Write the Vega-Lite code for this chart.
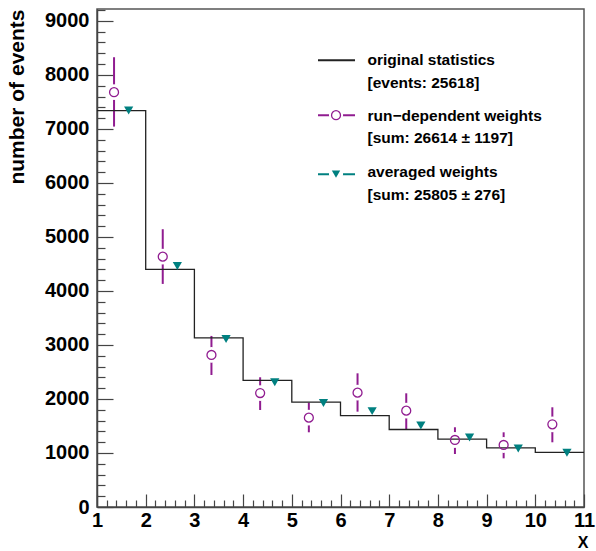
{
  "$schema": "https://vega.github.io/schema/vega-lite/v6.json",
  "width": 487,
  "height": 498,
  "autosize": "none",
  "padding": {"left": 97, "top": 9, "right": 12, "bottom": 44},
  "background": "white",
  "config": {
    "view": {"stroke": "#555", "strokeWidth": 1.5},
    "font": "Liberation Sans",
    "axis": {"grid": false, "domainColor": "#444", "domainWidth": 1.5, "tickColor": "#444", "tickWidth": 1.2,
             "labelFont": "Liberation Sans", "labelFontWeight": "bold", "labelFontSize": 20, "labelColor": "black",
             "titleFont": "Liberation Sans", "titleFontWeight": "bold", "titleColor": "black"}
  },
  "datasets": {
    "hist": [
      {"x": 1, "y": 7340}, {"x": 2, "y": 4400}, {"x": 3, "y": 3130}, {"x": 4, "y": 2345}, {"x": 5, "y": 1940},
      {"x": 6, "y": 1690}, {"x": 7, "y": 1435}, {"x": 8, "y": 1255}, {"x": 9, "y": 1095}, {"x": 10, "y": 1010}, {"x": 11, "y": 1010}
    ],
    "rw": [
      {"x": 1.35, "y": 7680, "lo": 7043, "hi": 8327},
      {"x": 2.35, "y": 4635, "lo": 4130, "hi": 5143},
      {"x": 3.35, "y": 2815, "lo": 2444, "hi": 3167},
      {"x": 4.35, "y": 2110, "lo": 1796, "hi": 2402},
      {"x": 5.35, "y": 1654, "lo": 1383, "hi": 1931},
      {"x": 6.35, "y": 2117, "lo": 1765, "hi": 2475},
      {"x": 7.35, "y": 1784, "lo": 1444, "hi": 2105},
      {"x": 8.35, "y": 1241, "lo": 981, "hi": 1476},
      {"x": 9.35, "y": 1148, "lo": 901, "hi": 1383},
      {"x": 10.35, "y": 1531, "lo": 1198, "hi": 1846}
    ],
    "avg": [
      {"x": 1.65, "y": 7340}, {"x": 2.65, "y": 4460}, {"x": 3.65, "y": 3110}, {"x": 4.65, "y": 2310}, {"x": 5.65, "y": 1925},
      {"x": 6.65, "y": 1775}, {"x": 7.65, "y": 1510}, {"x": 8.65, "y": 1285}, {"x": 9.65, "y": 1085}, {"x": 10.65, "y": 1005}
    ],
    "legline": [
      {"x": 5.538, "x2": 6.298, "y": 8272, "kind": "orig"},
      {"x": 5.538, "x2": 6.298, "y": 7254, "kind": "rw"},
      {"x": 5.538, "x2": 6.298, "y": 6161, "kind": "avg"}
    ],
    "legrw": [{"x": 5.908, "y": 7254}],
    "legavg": [{"x": 5.908, "y": 6161}],
    "legtext": [
      {"x": 6.554, "y": 8285, "text": "original statistics"},
      {"x": 6.554, "y": 7859, "text": "[events: 25618]"},
      {"x": 6.554, "y": 7235, "text": "run−dependent weights"},
      {"x": 6.554, "y": 6833, "text": "[sum: 26614 ± 1197]"},
      {"x": 6.554, "y": 6204, "text": "averaged weights"},
      {"x": 6.554, "y": 5785, "text": "[sum: 25805 ± 276]"}
    ]
  },
  "encoding": {
    "x": {
      "field": "x", "type": "quantitative",
      "scale": {"domain": [1, 11], "nice": false, "zero": false},
      "axis": {
        "title": "X", "titleFontSize": 16, "titleAnchor": "end", "titleAlign": "right", "titleBaseline": "top", "titleX": 491, "titleY": 27,
        "values": [1,1.2,1.4,1.6,1.8,2,2.2,2.4,2.6,2.8,3,3.2,3.4,3.6,3.8,4,4.2,4.4,4.6,4.8,5,5.2,5.4,5.6,5.8,6,6.2,6.4,6.6,6.8,7,7.2,7.4,7.6,7.8,8,8.2,8.4,8.6,8.8,9,9.2,9.4,9.6,9.8,10,10.2,10.4,10.6,10.8,11],
        "labelExpr": "abs(datum.value - round(datum.value)) < 0.01 ? format(datum.value, 'd') : ''",
        "tickSize": {"condition": {"test": "abs(datum.value - round(datum.value)) < 0.01", "value": -13}, "value": -7},
        "labelPadding": 16, "labelFlush": false, "labelOverlap": false
      }
    },
    "y": {
      "field": "y", "type": "quantitative",
      "scale": {"domain": [0, 9220], "nice": false, "zero": true},
      "axis": {
        "title": "number of events", "titleFontSize": 21, "titleAnchor": "end", "titleAlign": "right", "titlePadding": 17,
        "values": [0,200,400,600,800,1000,1200,1400,1600,1800,2000,2200,2400,2600,2800,3000,3200,3400,3600,3800,4000,4200,4400,4600,4800,5000,5200,5400,5600,5800,6000,6200,6400,6600,6800,7000,7200,7400,7600,7800,8000,8200,8400,8600,8800,9000,9200],
        "labelExpr": "datum.value % 1000 === 0 ? format(datum.value, 'd') : ''",
        "tickSize": {"condition": {"test": "datum.value % 1000 === 0", "value": -16}, "value": -8},
        "labelPadding": 24, "labelFlush": false, "labelOverlap": false
      }
    }
  },
  "layer": [
    {
      "data": {"name": "rw"},
      "mark": {"type": "rule", "color": "#901c90", "strokeWidth": 2},
      "encoding": {"y": {"field": "lo", "type": "quantitative"}, "y2": {"field": "hi"}}
    },
    {
      "data": {"name": "legline"},
      "mark": {"type": "rule", "strokeWidth": 2},
      "encoding": {
        "x2": {"field": "x2"},
        "color": {"field": "kind", "type": "nominal", "scale": {"domain": ["orig", "rw", "avg"], "range": ["#222222", "#901c90", "#008080"]}, "legend": null},
        "strokeWidth": {"field": "kind", "type": "nominal", "scale": {"domain": ["orig", "rw", "avg"], "range": [1.3, 2, 2]}, "legend": null}
      }
    },
    {
      "data": {"name": "rw"},
      "mark": {"type": "point", "shape": "circle", "filled": true, "color": "white", "size": 250, "opacity": 1}
    },
    {
      "data": {"name": "legrw"},
      "mark": {"type": "point", "shape": "circle", "filled": true, "color": "white", "size": 200, "opacity": 1}
    },
    {
      "data": {"name": "legavg"},
      "mark": {"type": "point", "shape": "circle", "filled": true, "color": "white", "size": 200, "opacity": 1}
    },
    {
      "data": {"name": "hist"},
      "mark": {"type": "line", "interpolate": "step-after", "color": "#222222", "strokeWidth": 1.3}
    },
    {
      "data": {"name": "avg"},
      "mark": {"type": "point", "shape": "triangle-down", "filled": true, "color": "#008080", "size": 85, "opacity": 1}
    },
    {
      "data": {"name": "legavg"},
      "mark": {"type": "point", "shape": "triangle-down", "filled": true, "color": "#008080", "size": 70, "opacity": 1}
    },
    {
      "data": {"name": "rw"},
      "mark": {"type": "point", "shape": "circle", "filled": false, "color": "#901c90", "size": 80, "strokeWidth": 1.3, "opacity": 1}
    },
    {
      "data": {"name": "legrw"},
      "mark": {"type": "point", "shape": "circle", "filled": false, "color": "#901c90", "size": 80, "strokeWidth": 1.3, "opacity": 1}
    },
    {
      "data": {"name": "legtext"},
      "mark": {"type": "text", "align": "left", "baseline": "middle", "font": "Liberation Sans", "fontWeight": "bold", "fontSize": 15.5, "color": "black"},
      "encoding": {"text": {"field": "text"}}
    }
  ]
}
